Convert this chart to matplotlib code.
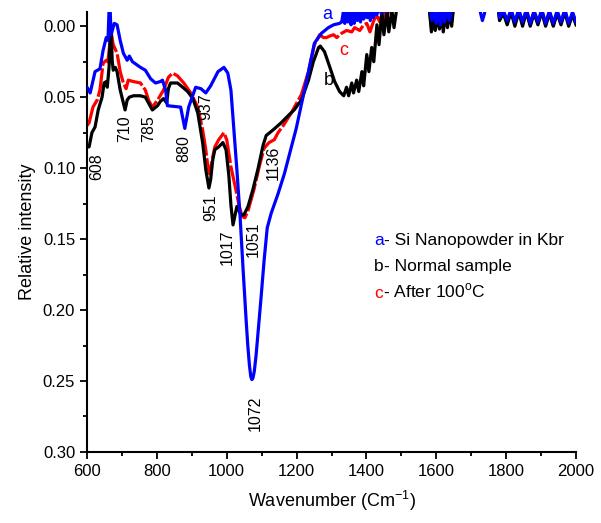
import matplotlib

matplotlib.use("Agg")
import matplotlib.pyplot as plt
from matplotlib.ticker import MultipleLocator, FormatStrFormatter

plt.rcParams["font.family"] = ["Liberation Sans", "DejaVu Sans"]
plt.rcParams["mathtext.fontset"] = "custom"
plt.rcParams["mathtext.rm"] = "Liberation Sans"

# a - Si nanopowder in KBr
wn_a = [600, 609, 623, 637, 646, 655, 660, 663, 666, 669, 678, 686, 695, 704,
        715, 721, 730, 753, 767, 782, 796, 810, 816, 825, 830, 868, 877, 880,
        885, 891, 911, 926, 940, 954, 975, 992, 1003, 1012, 1021, 1029, 1038,
        1047, 1055, 1060, 1065, 1069, 1072, 1075, 1079, 1084, 1090, 1098, 1107,
        1116, 1127, 1147, 1165,
        1185, 1199, 1214, 1234, 1251, 1271, 1291, 1306, 1323,
        1329, 1334, 1338, 1343, 1347, 1352, 1356, 1361, 1365, 1370, 1374, 1379,
        1383, 1388, 1392, 1397, 1402, 1406, 1411, 1416, 1420, 1425, 1430, 1436,
        1442, 1448, 1455, 1462, 1470, 1478, 1487, 1540, 1575,
        1580, 1588, 1594, 1600, 1606, 1612, 1618, 1624, 1630, 1638, 1645, 1652,
        1660, 1720, 1727, 1732, 1738, 1745, 1775,
        1781, 1792, 1803, 1814, 1825, 1836, 1847, 1858, 1869, 1880, 1891, 1902,
        1913, 1924, 1935, 1946, 1957, 1968, 1979, 1990, 2000]
ab_a = [0.043, 0.047, 0.032, 0.030, 0.017, 0.008, 0.010, -0.011, -0.013, 0.006,
        -0.002, -0.001, 0.010, 0.019, 0.024, 0.021, 0.025, 0.029, 0.031, 0.037,
        0.040, 0.039, 0.038, 0.045, 0.056, 0.057, 0.068, 0.072, 0.065, 0.057,
        0.043, 0.044, 0.047, 0.042, 0.032, 0.029, 0.033, 0.045, 0.075, 0.101,
        0.133, 0.172, 0.205, 0.224, 0.239, 0.247, 0.249, 0.248, 0.243, 0.232,
        0.215, 0.192, 0.165, 0.142,
        0.132, 0.118, 0.104, 0.085, 0.072, 0.055, 0.032, 0.012, 0.005, 0.001,
        -0.001, -0.002,
        -0.003, -0.010, -0.002, -0.012, -0.003, -0.011, -0.001, -0.012, -0.002,
        -0.012, -0.004, -0.012, -0.003, -0.013, -0.005, -0.012, -0.006, -0.013,
        -0.004, -0.013, -0.006, -0.014, -0.008, -0.015, -0.009, -0.016, -0.010,
        -0.016, -0.012, -0.018, -0.020, -0.025, -0.020,
        -0.015, -0.004, -0.012, -0.002, -0.011, -0.001, -0.012, -0.003, -0.013,
        -0.004, -0.014, -0.016, -0.020, -0.020, -0.009, -0.004, -0.009, -0.020,
        -0.020,
        -0.006, -0.011, -0.004, -0.012, -0.003, -0.012, -0.003, -0.012, -0.002,
        -0.011, -0.003, -0.012, -0.002, -0.011, -0.002, -0.011, -0.003, -0.012,
        -0.002, -0.010, -0.003]

# b - normal sample
wn_b = [600, 606, 614, 623, 632, 643, 649, 655, 658, 663, 666, 669, 672, 675,
        681, 686, 695, 704, 709, 715, 721, 733, 753, 767, 776, 787, 802, 810,
        819, 828, 833, 839, 859, 874, 888, 903, 917, 931, 940, 949, 954, 960,
        966, 977, 989, 998, 1006, 1012, 1018, 1024, 1029, 1035, 1041, 1049,
        1061, 1075, 1090, 1104, 1113, 1133, 1156, 1176, 1193, 1214, 1234, 1248,
        1263, 1268, 1280, 1294, 1309, 1323, 1335, 1343, 1349, 1358, 1363, 1372,
        1378, 1387, 1392, 1401, 1407, 1415, 1421, 1430, 1436, 1444, 1450, 1459,
        1464, 1473, 1479, 1487, 1540, 1575,
        1580, 1586, 1592, 1597, 1603, 1609, 1615, 1620, 1626, 1632, 1638, 1644,
        1650, 1660, 1775,
        1781, 1792, 1803, 1814, 1825, 1836, 1847, 1858, 1869, 1880, 1891, 1902,
        1913, 1924, 1935, 1946, 1957, 1968, 1979, 1990, 2000]
ab_b = [0.085, 0.085, 0.075, 0.071, 0.059, 0.050, 0.040, 0.039, 0.043, 0.029,
        0.010, 0.003, 0.024, 0.031, 0.029, 0.032, 0.045, 0.054, 0.059, 0.052,
        0.050, 0.049, 0.049, 0.050, 0.054, 0.059, 0.056, 0.053, 0.051, 0.054,
        0.044, 0.040, 0.040, 0.043, 0.046, 0.051, 0.061, 0.082, 0.101, 0.114,
        0.108, 0.094, 0.087, 0.085, 0.082, 0.087, 0.105, 0.126, 0.140, 0.133,
        0.127, 0.130, 0.133, 0.133, 0.127, 0.115, 0.100, 0.084, 0.077, 0.073,
        0.068, 0.063, 0.059, 0.052, 0.038, 0.025, 0.015, 0.014, 0.018, 0.028,
        0.039, 0.046, 0.049, 0.043, 0.049, 0.040, 0.047, 0.038, 0.046, 0.032,
        0.042, 0.020, 0.032, 0.015, 0.025, -0.001, 0.013, -0.010, 0.006, -0.011,
        0.004, -0.011, 0.001, -0.013, -0.025, -0.020,
        -0.012, 0.004, -0.006, 0.003, -0.008, 0.002, -0.010, 0.004, -0.008,
        0.001, -0.010, 0.000, -0.015, -0.020, -0.020,
        -0.004, -0.009, -0.001, -0.010, 0.000, -0.010, 0.000, -0.010, 0.000,
        -0.009, -0.001, -0.010, 0.000, -0.009, 0.000, -0.009, -0.001, -0.010,
        0.000, -0.008, -0.001]

# c - after 100 C
wn_c = [600, 606, 617, 629, 637, 646, 655, 660, 666, 669, 675, 686, 695, 704,
        712, 718, 733, 753, 767, 776, 787, 802, 819, 833, 845, 859, 877, 897,
        917, 931, 940, 946, 951, 960, 966, 977, 992, 1000, 1012, 1026, 1035,
        1044, 1052, 1061, 1078, 1093, 1107, 1121, 1136, 1147, 1162, 1185, 1214,
        1234, 1251, 1266, 1277, 1286, 1294, 1306, 1315, 1329, 1343, 1358, 1366,
        1381, 1392, 1401, 1410, 1421, 1430, 1438, 1447, 1456, 1464, 1487, 1540,
        1575,
        1580, 1586, 1592, 1597, 1603, 1609, 1615, 1620, 1626, 1632, 1638, 1644,
        1650, 1660, 1775,
        1781, 1792, 1803, 1814, 1825, 1836, 1847, 1858, 1869, 1880, 1891, 1902,
        1913, 1924, 1935, 1946, 1957, 1968, 1979, 1990, 2000]
ab_c = [0.070, 0.068, 0.057, 0.052, 0.045, 0.026, 0.024, 0.025, 0.010, 0.004,
        0.013, 0.019, 0.032, 0.040, 0.044, 0.038, 0.039, 0.040, 0.045, 0.052,
        0.057, 0.052, 0.045, 0.036, 0.033, 0.035, 0.040, 0.047, 0.057, 0.073,
        0.087, 0.099, 0.104, 0.092, 0.085, 0.080, 0.075, 0.080, 0.099, 0.115,
        0.126, 0.134, 0.135, 0.130, 0.115, 0.099, 0.086, 0.082, 0.080, 0.075,
        0.070, 0.061, 0.048, 0.032, 0.013, 0.006, 0.008, 0.008, 0.007, 0.006,
        0.008, 0.005, 0.003, 0.004, 0.001, 0.003, -0.001, -0.002, 0.004, -0.004,
        -0.008, -0.003, -0.010, -0.004, -0.011, -0.020, -0.025, -0.020,
        -0.013, 0.000, -0.008, -0.001, -0.010, -0.002, -0.011, 0.001, -0.010,
        -0.002, -0.012, -0.003, -0.016, -0.020, -0.020,
        -0.005, -0.010, -0.003, -0.011, -0.002, -0.011, -0.002, -0.011, -0.001,
        -0.010, -0.002, -0.011, -0.001, -0.010, -0.001, -0.010, -0.002, -0.011,
        -0.001, -0.009, -0.002]

# band assignments written next to the curves
band_labels = ["608", "710", "785", "880", "937", "951", "1017", "1051",
               "1072", "1136"]
band_x = [629, 707, 776, 877, 940, 953, 1002, 1075, 1081, 1133]
band_y = [0.099, 0.072, 0.072, 0.086, 0.057, 0.128, 0.156, 0.150, 0.273, 0.096]

legend_keys = ["a", "b", "c"]
legend_texts = ["- Si Nanopowder in Kbr", "- Normal sample",
                r"- After 100$^{\mathrm{o}}$C"]
colors = ["#0000ff", "#000000", "#ff0000"]

fig = plt.figure(figsize=(6.01, 5.23), dpi=100)
ax = fig.add_axes([0.1448, 0.1358, 0.8136, 0.8412])

lw = 2.3
ax.plot(wn_c, ab_c, color=colors[2], lw=lw, ls=(0, (9, 0.8)), zorder=2)
ax.plot(wn_b, ab_b, color=colors[1], lw=lw, zorder=3)
ax.plot(wn_a, ab_a, color=colors[0], lw=lw, zorder=4)

ax.set_xlim(600, 2000)
ax.set_ylim(0.30, -0.01)
ax.xaxis.set_major_locator(MultipleLocator(200))
ax.xaxis.set_minor_locator(MultipleLocator(100))
ax.yaxis.set_major_locator(MultipleLocator(0.05))
ax.yaxis.set_minor_locator(MultipleLocator(0.025))
ax.yaxis.set_major_formatter(FormatStrFormatter("%.2f"))
for side in ("top", "right"):
    ax.spines[side].set_visible(False)
for side in ("left", "bottom"):
    ax.spines[side].set_linewidth(1.5)
ax.tick_params(which="major", direction="out", length=5, width=1.3,
               labelsize=12)
ax.tick_params(which="minor", direction="out", length=3, width=1.3)

ax.set_xlabel("Wavenumber (Cm$^{\\mathrm{-1}}$)", fontsize=13, labelpad=7)
ax.set_ylabel("Relative intensity", fontsize=13, labelpad=5)

for lab, x, y in zip(band_labels, band_x, band_y):
    ax.text(x, y, lab, rotation=90, ha="center", va="center", fontsize=11.5)

# letters tagging each curve
ax.text(1289, -0.008, "a", color=colors[0], fontsize=13, ha="center",
        va="center", clip_on=False)
ax.text(1291, 0.038, "b", color=colors[1], fontsize=13, ha="center",
        va="center")
ax.text(1335, 0.017, "c", color=colors[2], fontsize=13, ha="center",
        va="center")

# key in the empty right part of the plot
for i, (key, txt, col) in enumerate(zip(legend_keys, legend_texts, colors)):
    y = 0.151 + i * 0.0185
    t = ax.text(1422, y, key, color=col, fontsize=12.5, va="center")
    ax.annotate(txt, xy=(1, 0), xycoords=t, va="bottom", ha="left",
                fontsize=12.5)

fig.savefig("out.png", dpi=100)
